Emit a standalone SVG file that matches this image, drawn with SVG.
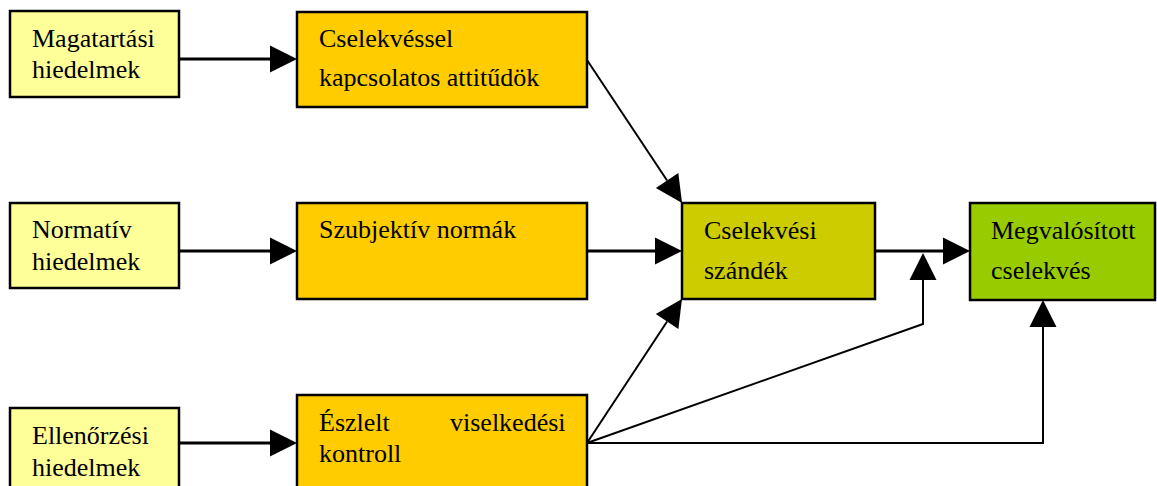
<svg xmlns="http://www.w3.org/2000/svg" width="1157" height="486" viewBox="0 0 1157 486">
<style>
  .box { stroke: #000; stroke-width: 2.5; }
  .y { fill: #FFFF99; }
  .o { fill: #FFCC00; }
  .s { fill: #CCCC00; }
  .g { fill: #99CC00; }
  text { font-family: "Liberation Serif", "Times New Roman", serif; font-size: 26px; fill: #000; }
  .c { fill: none; stroke: #000; stroke-linejoin: miter; }
  .t3 { stroke-width: 3; }
  .t2 { stroke-width: 2; }
</style>
<defs>
  <marker id="ah" markerUnits="userSpaceOnUse" markerWidth="28" markerHeight="28" refX="0" refY="13.5" orient="auto" overflow="visible">
    <path d="M0,0 L27,13.5 L0,27 Z" fill="#000"/>
  </marker>
</defs>
<rect width="1157" height="486" fill="#fff"/>

<g id="connectors">
  <line class="c t3" x1="179" y1="59" x2="270" y2="59" marker-end="url(#ah)"/>
  <line class="c t3" x1="179" y1="251" x2="270" y2="251" marker-end="url(#ah)"/>
  <line class="c t3" x1="179" y1="443" x2="270" y2="443" marker-end="url(#ah)"/>
  <line class="c t2" x1="587" y1="60" x2="667.1" y2="180.5" marker-end="url(#ah)"/>
  <line class="c t3" x1="587" y1="251" x2="655" y2="251" marker-end="url(#ah)"/>
  <line class="c t2" x1="587" y1="443" x2="667.1" y2="321.5" marker-end="url(#ah)"/>
  <line class="c t3" x1="875" y1="251" x2="943" y2="251" marker-end="url(#ah)"/>
  <polyline class="c t2" points="587,443 923,324 923,280" marker-end="url(#ah)"/>
  <polyline class="c t2" points="587,443 1043,443 1043,327" marker-end="url(#ah)"/>
</g>

<g id="n-magatartasi">
  <rect class="box y" x="10" y="11" width="169" height="86"/>
  <text x="32" y="47">Magatartási</text>
  <text x="32" y="78">hiedelmek</text>
</g>
<g id="n-normativ">
  <rect class="box y" x="10" y="203" width="169" height="85"/>
  <text x="32" y="238">Normatív</text>
  <text x="32" y="270">hiedelmek</text>
</g>
<g id="n-ellenorzesi">
  <rect class="box y" x="10" y="408" width="169" height="90"/>
  <text x="32" y="444">Ellenőrzési</text>
  <text x="32" y="476">hiedelmek</text>
</g>

<g id="n-attitudok">
  <rect class="box o" x="297" y="12" width="290" height="95"/>
  <text x="319" y="47">Cselekvéssel</text>
  <text x="319" y="86">kapcsolatos attitűdök</text>
</g>
<g id="n-normak">
  <rect class="box o" x="297" y="203" width="290" height="96"/>
  <text x="319" y="238">Szubjektív normák</text>
</g>
<g id="n-kontroll">
  <rect class="box o" x="297" y="395" width="290" height="100"/>
  <text y="431"><tspan x="319">Észlelt</tspan><tspan x="450">viselkedési</tspan></text>
  <text x="319" y="462">kontroll</text>
</g>

<g id="n-szandek">
  <rect class="box s" x="682" y="203" width="193" height="96"/>
  <text x="704" y="239">Cselekvési</text>
  <text x="704" y="279">szándék</text>
</g>
<g id="n-cselekves">
  <rect class="box g" x="970" y="203" width="185" height="97"/>
  <text x="991" y="239">Megvalósított</text>
  <text x="991" y="279">cselekvés</text>
</g>
</svg>
